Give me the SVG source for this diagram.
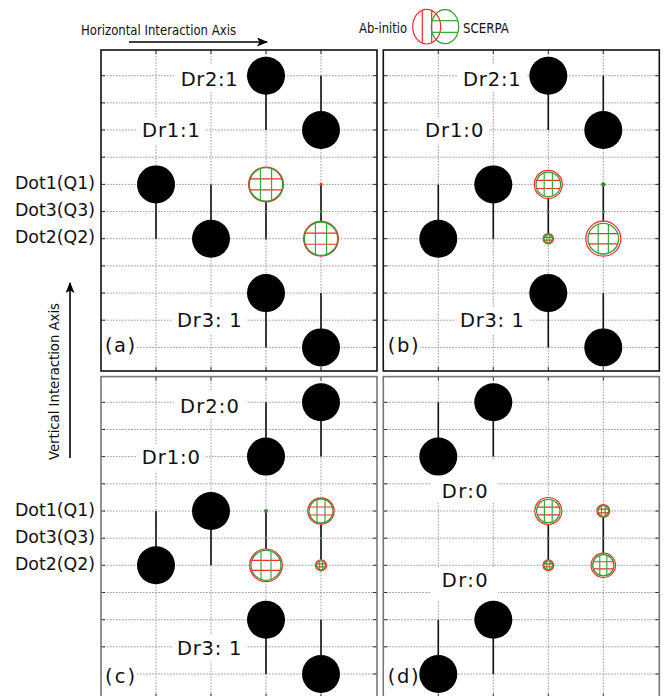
<svg xmlns="http://www.w3.org/2000/svg" xmlns:xlink="http://www.w3.org/1999/xlink" width="665" height="696" viewBox="0 0 665 696">
<style>
text{font-family:"DejaVu Sans","Liberation Sans",sans-serif;fill:#111}
.lbl{font-size:19.5px}
.dot{font-size:17.4px}
.ax{font-family:"DejaVu Sans Condensed","DejaVu Sans","Liberation Sans",sans-serif;font-size:14.8px}
.bg{fill:#fff}
.grid{stroke:#9a9a9a;stroke-width:1;stroke-dasharray:1.6,1.4;fill:none}
.tick{stroke:#333;stroke-width:1;fill:none}
.frA{fill:none;stroke:#111;stroke-width:1.6}
.frC{fill:none;stroke:#777;stroke-width:1.6}
.stem{stroke:#111;stroke-width:1.6;fill:none}
.bc{fill:#000}
.rr{fill:#fff;stroke:#ff2a2a;stroke-width:1.2}
.gr{fill:#fff;stroke:#2e9e2e;stroke-width:1.3}
.rh{stroke:#ff2a2a;stroke-width:1.2;fill:none}
.gh{stroke:#3aa83a;stroke-width:1.2;fill:none}
.gd{fill:#2e8e2e}
.rd{fill:#ff2a2a}
</style>
<defs>
<marker id="arr" markerUnits="userSpaceOnUse" markerWidth="12" markerHeight="10" refX="10" refY="4.5" orient="auto">
<path d="M0,0 L11,4.5 L0,9 L2.5,4.5 z" fill="#000"/>
</marker>
<g id="grid">
<path class="grid" d="M101,75.7H377M101,102.9H377M101,130H377M101,157.2H377M101,184.4H377M101,211.6H377M101,238.7H377M101,265.9H377M101,293.1H377M101,320.2H377M101,347.4H377M156,50V371M211,50V371M266,50V371M321,50V371"/>
<path class="tick" d="M156,50v4M211,50v4M266,50v4M321,50v4M156,371v-4M211,371v-4M266,371v-4M321,371v-4M101,75.7h4M101,102.9h4M101,130h4M101,157.2h4M101,184.4h4M101,211.6h4M101,238.7h4M101,265.9h4M101,293.1h4M101,320.2h4M101,347.4h4M377,75.7h-4M377,102.9h-4M377,130h-4M377,157.2h-4M377,184.4h-4M377,211.6h-4M377,238.7h-4M377,265.9h-4M377,293.1h-4M377,320.2h-4M377,347.4h-4"/>
</g>
</defs>
<rect width="665" height="696" fill="#fff"/>

<g id="axes">
<text class="ax" x="81" y="34.7" textLength="155" lengthAdjust="spacingAndGlyphs">Horizontal Interaction Axis</text>
<line x1="129" y1="42" x2="267" y2="42" stroke="#000" stroke-width="1.6" marker-end="url(#arr)"/>
<text class="ax" transform="translate(58.5,460) rotate(-90)" x="0" y="0" textLength="157" lengthAdjust="spacingAndGlyphs">Vertical Interaction Axis</text>
<line x1="70" y1="458" x2="70" y2="283" stroke="#000" stroke-width="1.6" marker-end="url(#arr)"/>
</g>

<g id="legend">
<text class="ax" x="359" y="33.3" textLength="48" lengthAdjust="spacingAndGlyphs">Ab-initio</text>
<ellipse cx="426.7" cy="26.7" rx="14" ry="17.3" fill="none" stroke="#ff2a2a" stroke-width="1.2"/>
<path class="rh" d="M422.3,10.3V43.1M431.7,10.5V42.9"/>
<ellipse cx="445" cy="26.7" rx="13.7" ry="17" fill="none" stroke="#2e9e2e" stroke-width="1.2"/>
<path class="gh" d="M432.2,20.7H457.8M432.1,32.3H457.9"/>
<text class="ax" x="463" y="33.3" textLength="46" lengthAdjust="spacingAndGlyphs">SCERPA</text>
</g>

<g id="dot-labels">
<text class="dot" x="15" y="189.3" textLength="80">Dot1(Q1)</text>
<text class="dot" x="15" y="216" textLength="80">Dot3(Q3)</text>
<text class="dot" x="15" y="243.3" textLength="80">Dot2(Q2)</text>
<text class="dot" x="15" y="515.9" textLength="80">Dot1(Q1)</text>
<text class="dot" x="15" y="542.6" textLength="80">Dot3(Q3)</text>
<text class="dot" x="15" y="569.9" textLength="80">Dot2(Q2)</text>
</g>

<g id="panel-a">
<use xlink:href="#grid"/>
<rect class="frA" x="101" y="50" width="276" height="321"/>
<rect class="bg" x="174" y="64" width="72" height="28"/><text class="lbl" x="180.7" y="86" textLength="57">Dr2:1</text>
<rect class="bg" x="137" y="117" width="69" height="27"/><text class="lbl" x="142" y="136.5" textLength="58">Dr1:1</text>
<rect class="bg" x="172" y="307" width="74" height="27"/><text class="lbl" x="177" y="327.3" textLength="64.7">Dr3: 1</text>
<rect class="bg" x="102" y="335" width="35" height="25"/><text class="lbl" x="105" y="352" textLength="30">(a)</text>
</g>
<g id="panel-b">
<use xlink:href="#grid" transform="translate(282.3,0)"/>
<rect class="frA" x="383.3" y="50" width="276" height="321"/>
<rect class="bg" x="457" y="64" width="70" height="28"/><text class="lbl" x="463" y="85.7" textLength="57.7">Dr2:1</text>
<rect class="bg" x="419" y="117" width="70" height="27"/><text class="lbl" x="425" y="136.7" textLength="58.3">Dr1:0</text>
<rect class="bg" x="454" y="307" width="76" height="27"/><text class="lbl" x="460" y="327.3" textLength="64">Dr3: 1</text>
<rect class="bg" x="384" y="335" width="36" height="25"/><text class="lbl" x="387.7" y="352" textLength="31">(b)</text>
</g>
<g id="panel-c">
<use xlink:href="#grid" transform="translate(0,326.6)"/>
<rect class="frC" x="101" y="376.6" width="276" height="330"/>
<rect class="bg" x="174" y="391" width="72" height="28"/><text class="lbl" x="180" y="413" textLength="59">Dr2:0</text>
<rect class="bg" x="136" y="444" width="70" height="27"/><text class="lbl" x="141.7" y="464" textLength="58.3">Dr1:0</text>
<rect class="bg" x="172" y="635" width="74" height="27"/><text class="lbl" x="177" y="655" textLength="64.3">Dr3: 1</text>
<rect class="bg" x="102" y="665" width="35" height="27"/><text class="lbl" x="105" y="683" textLength="30">(c)</text>
</g>
<g id="panel-d">
<use xlink:href="#grid" transform="translate(282.3,326.6)"/>
<rect class="frC" x="383.3" y="376.6" width="276" height="330"/>
<rect class="bg" x="430" y="460" width="68" height="43"/><text class="lbl" x="441.7" y="498" textLength="46">Dr:0</text>
<rect class="bg" x="430" y="568" width="68" height="32"/><text class="lbl" x="441.7" y="587" textLength="46">Dr:0</text>
<rect class="bg" x="384" y="665" width="36" height="27"/><text class="lbl" x="387.7" y="683" textLength="31">(d)</text>
</g>

<g id="connectors">
<path class="stem" d="M266,75.7V130M321,75.7V130M156,184.4V238.7M211,184.4V238.7M266,184.4V238.7M321,184.4V238.7M266,293.1V347.4M321,293.1V347.4"/>
<path class="stem" d="M548.3,75.7V130M603.3,75.7V130M438.3,184.4V238.7M493.3,184.4V238.7M548.3,184.4V238.7M603.3,184.4V238.7M548.3,293.1V347.4M603.3,293.1V347.4"/>
<path class="stem" d="M321,402.3V456.6M266,402.3V456.6M156,511V565.3M211,511V565.3M266,511V565.3M321,511V565.3M266,619.7V674M321,619.7V674"/>
<path class="stem" d="M493.3,402.3V456.6M438.3,402.3V456.6M548.3,511V565.3M603.3,511V565.3M493.3,619.7V674M438.3,619.7V674"/>
</g>

<g id="a-dr2"><circle class="bc" cx="266" cy="75.7" r="19"/></g>
<g id="a-dr2b"><circle class="bc" cx="321" cy="130" r="19"/></g>
<g id="a-dr1"><circle class="bc" cx="156" cy="184.4" r="19"/></g>
<g id="a-dr1b"><circle class="bc" cx="211" cy="238.7" r="19"/></g>
<g id="a-dr3"><circle class="bc" cx="266" cy="293.1" r="19"/></g>
<g id="a-dr3b"><circle class="bc" cx="321" cy="347.4" r="19"/></g>
<g id="a-q1" transform="translate(266,184.4)"><circle class="rr" r="17.4"/><circle class="gr" r="16.7"/><path class="rh" d="M-15.75,-5.57H15.75M-15.75,5.57H15.75"/><path class="gh" d="M-5.57,-15.75V15.75M5.57,-15.75V15.75"/></g>
<g id="a-q3"><circle class="gd" cx="266" cy="211.6" r="1.2"/><circle class="gd" cx="266" cy="238.7" r="1.2"/><circle class="gd" cx="321" cy="211.6" r="1.4"/><circle class="rd" cx="321" cy="184.4" r="1.6"/></g>
<g id="a-q2" transform="translate(321,238.7)"><circle class="rr" r="17.4"/><circle class="gr" r="16.7"/><path class="rh" d="M-15.75,-5.57H15.75M-15.75,5.57H15.75"/><path class="gh" d="M-5.57,-15.75V15.75M5.57,-15.75V15.75"/></g>

<g id="b-dr2"><circle class="bc" cx="548.3" cy="75.7" r="19"/></g>
<g id="b-dr2b"><circle class="bc" cx="603.3" cy="130" r="19"/></g>
<g id="b-dr1"><circle class="bc" cx="493.3" cy="184.4" r="19"/></g>
<g id="b-dr1b"><circle class="bc" cx="438.3" cy="238.7" r="19"/></g>
<g id="b-dr3"><circle class="bc" cx="548.3" cy="293.1" r="19"/></g>
<g id="b-dr3b"><circle class="bc" cx="603.3" cy="347.4" r="19"/></g>
<g id="b-q1" transform="translate(548.3,184.4)"><circle class="rr" r="14"/><circle class="gr" r="12.3"/><path class="rh" d="M-11.6,-4.1H11.6M-11.6,4.1H11.6"/><path class="gh" d="M-4.1,-11.6V11.6M4.1,-11.6V11.6"/></g>
<g id="b-q2" transform="translate(548.3,238.7)"><circle class="rr" r="5.2"/><circle class="gr" r="4.2"/><path class="rh" d="M-3.96,-1.4H3.96M-3.96,1.4H3.96"/><path class="gh" d="M-1.4,-3.96V3.96M1.4,-3.96V3.96"/></g>
<g id="b-q3"><circle class="gd" cx="548.3" cy="211.6" r="1.2"/><circle class="gd" cx="603.3" cy="211.6" r="1.5"/><circle class="gd" cx="603.3" cy="184.4" r="2.2"/></g>
<g id="b-q2b" transform="translate(603.3,238.7)"><circle class="rr" r="17.5"/><circle class="gr" r="15.3"/><path class="rh" d="M-14.43,-5.1H14.43M-14.43,5.1H14.43"/><path class="gh" d="M-5.1,-14.43V14.43M5.1,-14.43V14.43"/></g>

<g id="c-dr2"><circle class="bc" cx="321" cy="402.3" r="19"/></g>
<g id="c-dr2b"><circle class="bc" cx="266" cy="456.6" r="19"/></g>
<g id="c-dr1"><circle class="bc" cx="211" cy="511" r="19"/></g>
<g id="c-dr1b"><circle class="bc" cx="156" cy="565.3" r="19"/></g>
<g id="c-dr3"><circle class="bc" cx="266" cy="619.7" r="19"/></g>
<g id="c-dr3b"><circle class="bc" cx="321" cy="674" r="19"/></g>
<g id="c-q3"><circle class="gd" cx="266" cy="511" r="2"/><circle class="gd" cx="266" cy="538.2" r="1.2"/><circle class="gd" cx="321" cy="538.2" r="1.2"/></g>
<g id="c-q2" transform="translate(266,565.3)"><circle class="rr" r="16.3"/><circle class="gr" r="15"/><path class="rh" d="M-14.1,-5H14.1M-14.1,5H14.1"/><path class="gh" d="M-5,-14.1V14.1M5,-14.1V14.1"/></g>
<g id="c-q1" transform="translate(321,511)"><circle class="rr" r="13.2"/><circle class="gr" r="12"/><path class="rh" d="M-11.3,-4H11.3M-11.3,4H11.3"/><path class="gh" d="M-4,-11.3V11.3M4,-11.3V11.3"/></g>
<g id="c-q2b" transform="translate(321,565.3)"><circle class="rr" r="5.5"/><circle class="gr" r="4.5"/><path class="rh" d="M-4.24,-1.5H4.24M-4.24,1.5H4.24"/><path class="gh" d="M-1.5,-4.24V4.24M1.5,-4.24V4.24"/></g>

<g id="d-dr2"><circle class="bc" cx="493.3" cy="402.3" r="19"/></g>
<g id="d-dr2b"><circle class="bc" cx="438.3" cy="456.6" r="19"/></g>
<g id="d-dr3"><circle class="bc" cx="493.3" cy="619.7" r="19"/></g>
<g id="d-dr3b"><circle class="bc" cx="438.3" cy="674" r="19"/></g>
<g id="d-q3"><circle class="gd" cx="548.3" cy="538.2" r="1.2"/><circle class="gd" cx="603.3" cy="538.2" r="1.2"/></g>
<g id="d-q1" transform="translate(548.3,511)"><circle class="rr" r="13.5"/><circle class="gr" r="11.7"/><path class="rh" d="M-11.03,-3.9H11.03M-11.03,3.9H11.03"/><path class="gh" d="M-3.9,-11.03V11.03M3.9,-11.03V11.03"/></g>
<g id="d-q2" transform="translate(548.3,565.3)"><circle class="rr" r="5.4"/><circle class="gr" r="4.4"/><path class="rh" d="M-4.15,-1.47H4.15M-4.15,1.47H4.15"/><path class="gh" d="M-1.47,-4.15V4.15M1.47,-4.15V4.15"/></g>
<g id="d-q1b" transform="translate(603.3,511)"><circle class="rr" r="6.4"/><circle class="gr" r="5.4"/><path class="rh" d="M-5.09,-1.8H5.09M-5.09,1.8H5.09"/><path class="gh" d="M-1.8,-5.09V5.09M1.8,-5.09V5.09"/></g>
<g id="d-q2b" transform="translate(603.3,565.3)"><circle class="rr" r="12.2"/><circle class="gr" r="10.6"/><path class="rh" d="M-10,-3.53H10M-10,3.53H10"/><path class="gh" d="M-3.53,-10V10M3.53,-10V10"/></g>
</svg>
